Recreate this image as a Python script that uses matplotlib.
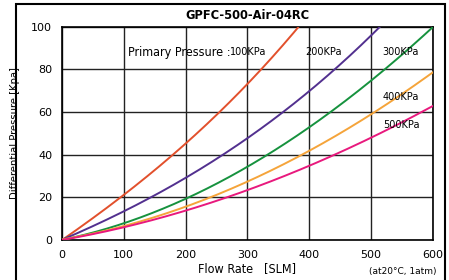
import matplotlib
matplotlib.use("Agg")
import numpy as np
import matplotlib.pyplot as plt
from matplotlib.patches import Rectangle
from matplotlib import font_manager

# values
flow_100 = [0, 100, 180, 252, 300, 324, 382]
dp_100 = [0, 21, 40, 60, 73, 80, 100]
flow_200 = [0, 100, 200, 300, 357, 439, 515]
dp_200 = [0, 13.5, 29.5, 47, 60, 80, 100]
flow_300 = [0, 100, 200, 300, 400, 434, 523, 600]
dp_300 = [0, 8, 19, 34.5, 53, 60, 80, 100]
flow_400 = [0, 100, 200, 300, 388, 500, 600]
dp_400 = [0, 7, 15.5, 27, 40, 59.3, 78.5]
flow_500 = [0, 100, 200, 300, 400, 500, 600]
dp_500 = [0, 6, 13.8, 23, 35.5, 47.5, 63]

labels = ["100KPa", "200KPa", "300KPa", "400KPa", "500KPa"]
colors = ["#e2502c", "#52308f", "#16923e", "#f5a43a", "#e8197d"]
x_ticks = [0, 100, 200, 300, 400, 500, 600]
y_ticks = [0, 20, 40, 60, 80, 100]

names = {f.name for f in font_manager.fontManager.ttflist}
if "Liberation Sans Narrow" in names:
    narrow = dict(family="Liberation Sans Narrow")
else:
    narrow = dict(family="DejaVu Sans", stretch="condensed")

fig = plt.figure(figsize=(4.49, 2.80), dpi=100)
ax = fig.add_axes([0.138, 0.143, 0.826, 0.761])

series = [(flow_100, dp_100), (flow_200, dp_200), (flow_300, dp_300),
          (flow_400, dp_400), (flow_500, dp_500)]
for (fx, fy), c in zip(series, colors):
    xs = np.linspace(fx[0], fx[-1], 200)
    coef = np.polyfit(fx, fy, 3)
    ys = np.polyval(coef, xs)
    ax.plot(xs, ys, color=c, lw=1.4, zorder=3)

ax.set_xlim(0, 600)
ax.set_ylim(0, 100)
ax.set_xticks(x_ticks)
ax.set_yticks(y_ticks)
ax.tick_params(length=0, labelsize=8, pad=7)
ax.grid(True, color="#222222", lw=1.0)
for s in ax.spines.values():
    s.set_linewidth(1.2)

ax.set_ylabel("Differential Pressure [Kpa]", fontsize=8, labelpad=8, **narrow)
ax.set_xlabel("Flow Rate   [SLM]", fontsize=9, labelpad=2, **narrow)
ax.set_title("GPFC-500-Air-04RC", fontsize=8.3, fontweight="bold", pad=6)

ax.text(107, 88, "Primary Pressure :", fontsize=9, va="center", **narrow)
ax.text(271, 88, labels[0], fontsize=7, va="center")
ax.text(393, 88, labels[1], fontsize=7, va="center")
ax.text(519, 88, labels[2], fontsize=7, va="center")
ax.text(519, 67, labels[3], fontsize=7, va="center")
ax.text(519, 54, labels[4], fontsize=7, va="center")

fig.text(0.973, 0.032, "(at20\u00b0C, 1atm)", fontsize=6.5, ha="right", va="center")

fig.patches.append(Rectangle((16 / 449, -0.05), 429 / 449, 1 - 4 / 280 + 0.05,
                             transform=fig.transFigure, fill=False,
                             edgecolor="black", lw=1.5))

fig.savefig("out.png", dpi=100)
